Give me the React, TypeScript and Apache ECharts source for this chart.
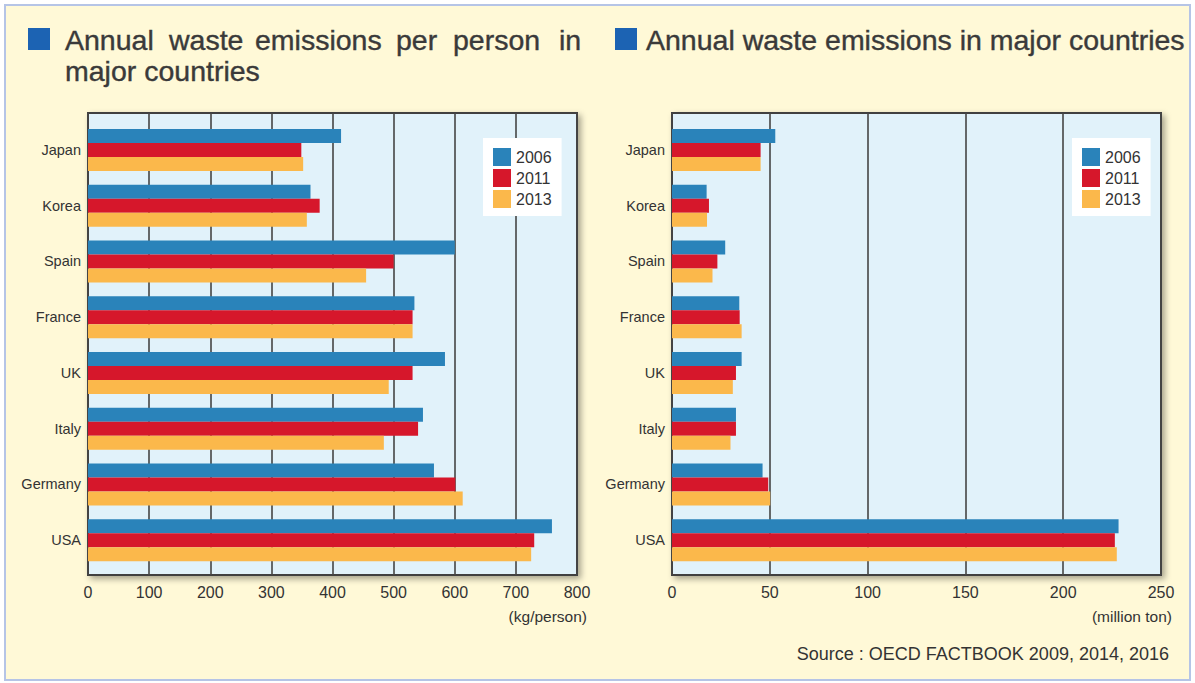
import React, { useEffect, useRef } from "react";
import * as echarts from "echarts";

const categories = ["Japan", "Korea", "Spain", "France", "UK", "Italy", "Germany", "USA"];
const years = ["2006", "2011", "2013"];
const perPerson2006 = [414, 364, 600, 534, 584, 548, 566, 759];
const perPerson2011 = [349, 379, 500, 531, 531, 540, 601, 730];
const perPerson2013 = [352, 358, 455, 531, 492, 484, 613, 725];
const total2006 = [52.8, 17.7, 27.2, 34.4, 35.6, 32.7, 46.3, 228.3];
const total2011 = [45.3, 18.9, 23.2, 34.6, 32.7, 32.7, 49.2, 226.4];
const total2013 = [45.3, 17.9, 20.7, 35.6, 31.1, 29.9, 50.2, 227.4];
const perPersonAxis = { min: 0, max: 800, interval: 100 };
const totalAxis = { min: 0, max: 250, interval: 50 };
const leftTitleLine1 = ["Annual", "waste", "emissions", "per", "person", "in"];
const leftTitleLine1X = [65, 169, 255, 396, 453, 559];
const leftTitleLine2 = "major countries";
const rightTitle = "Annual waste emissions in major countries";
const leftUnit = "(kg/person)";
const rightUnit = "(million ton)";
const sourceText = "Source : OECD FACTBOOK 2009, 2014, 2016";

const colors = ["#2A83BA", "#D6172B", "#FBB84B"];
const FONT = "'Liberation Sans', Arial, sans-serif";
const TEXT = "#333333";

export default function App() {
  const ref = useRef<HTMLDivElement>(null);
  useEffect(() => {
    if (!ref.current) return;
    const chart = echarts.init(ref.current, undefined, { renderer: "svg" });

    const frameGrid = (left: number) => ({
      left,
      top: 113,
      width: 489,
      height: 462,
      show: true,
      backgroundColor: "#E1F2FA",
      borderColor: "#404040",
      borderWidth: 2,
      shadowColor: "rgba(0,0,0,0.35)",
      shadowBlur: 6,
      shadowOffsetX: 3,
      shadowOffsetY: 3,
      containLabel: false,
    });
    const barGrid = (left: number) => ({
      left,
      top: 122,
      width: 489,
      height: 446,
      show: false,
      containLabel: false,
    });

    const frameX = (gridIndex: number, ax: any) => ({
      type: "value",
      gridIndex,
      min: ax.min,
      max: ax.max,
      interval: ax.interval,
      axisLine: { show: false },
      axisTick: { show: false },
      axisLabel: { fontSize: 16, color: TEXT, fontFamily: FONT, margin: 9 },
      splitLine: { show: true, lineStyle: { color: "#454545", width: 1.6 } },
    });
    const barX = (gridIndex: number, ax: any) => ({
      type: "value",
      gridIndex,
      min: ax.min,
      max: ax.max,
      interval: ax.interval,
      show: false,
    });
    const frameY = (gridIndex: number) => ({
      type: "value",
      gridIndex,
      show: false,
    });
    const barY = (gridIndex: number) => ({
      type: "category",
      gridIndex,
      data: categories,
      inverse: true,
      axisLine: { show: false },
      axisTick: { show: false },
      splitLine: { show: false },
      axisLabel: { fontSize: 14.5, color: TEXT, fontFamily: FONT, margin: 7 },
    });

    const mkSeries = (name: string, data: number[], idx: number, color: string) => ({
      type: "bar",
      name,
      data,
      xAxisIndex: idx,
      yAxisIndex: idx,
      barWidth: 14,
      barGap: "0%",
      itemStyle: { color },
      z: 3,
    });

    const legend = (left: number) => ({
      data: years,
      orient: "vertical",
      left,
      top: 138,
      padding: [10, 10, 8, 10],
      backgroundColor: "#FFFFFF",
      itemWidth: 18,
      itemHeight: 18,
      itemGap: 3,
      icon: "rect",
      textStyle: { fontSize: 16, color: TEXT, fontFamily: FONT },
      selectedMode: false,
    });

    const titleText = (text: string, x: number, y: number) => ({
      type: "text",
      x,
      y,
      style: {
        text,
        fontSize: 28.5,
        fontFamily: FONT,
        fill: "#3A3A3A",
        stroke: "#3A3A3A",
        lineWidth: 0.4,
        textVerticalAlign: "middle",
        verticalAlign: "middle",
      },
    });

    const smallText = (text: string, x: number, y: number, size: number) => ({
      type: "text",
      x,
      y,
      style: {
        text,
        fontSize: size,
        fontFamily: FONT,
        fill: TEXT,
        textAlign: "right",
        textVerticalAlign: "middle",
        align: "right",
        verticalAlign: "middle",
      },
    });

    const option: any = {
      animation: false,
      backgroundColor: "#FFFFFF",
      textStyle: { fontFamily: FONT },
      grid: [frameGrid(88), barGrid(88), frameGrid(672), barGrid(672)],
      xAxis: [
        frameX(0, perPersonAxis),
        barX(1, perPersonAxis),
        frameX(2, totalAxis),
        barX(3, totalAxis),
      ],
      yAxis: [frameY(0), barY(1), frameY(2), barY(3)],
      legend: [legend(483), legend(1072)],
      series: [
        mkSeries(years[0], perPerson2006, 1, colors[0]),
        mkSeries(years[1], perPerson2011, 1, colors[1]),
        mkSeries(years[2], perPerson2013, 1, colors[2]),
        mkSeries(years[0], total2006, 3, colors[0]),
        mkSeries(years[1], total2011, 3, colors[1]),
        mkSeries(years[2], total2013, 3, colors[2]),
      ],
      graphic: [
        {
          type: "rect",
          z: -100,
          shape: { x: 5, y: 5, width: 1185, height: 675 },
          style: { fill: "#FFF9D7", stroke: "#B5C4E6", lineWidth: 2 },
          silent: true,
        },
        {
          type: "rect",
          shape: { x: 28, y: 28, width: 22, height: 22 },
          style: { fill: "#1C63B3" },
        },
        {
          type: "rect",
          shape: { x: 615, y: 28, width: 22, height: 22 },
          style: { fill: "#1C63B3" },
        },
        ...leftTitleLine1.map((w, i) => titleText(w, leftTitleLine1X[i], 40)),
        titleText(leftTitleLine2, 65, 71),
        titleText(rightTitle, 646, 40),
        smallText(leftUnit, 587, 616, 15.5),
        smallText(rightUnit, 1172, 616, 15.5),
        smallText(sourceText, 1169, 654, 18),
      ],
    };
    chart.setOption(option);
    return () => chart.dispose();
  }, []);
  return (
    <div
      ref={ref}
      style={{ position: "fixed", left: 0, top: 0, width: 1195, height: 683 }}
    />
  );
}
